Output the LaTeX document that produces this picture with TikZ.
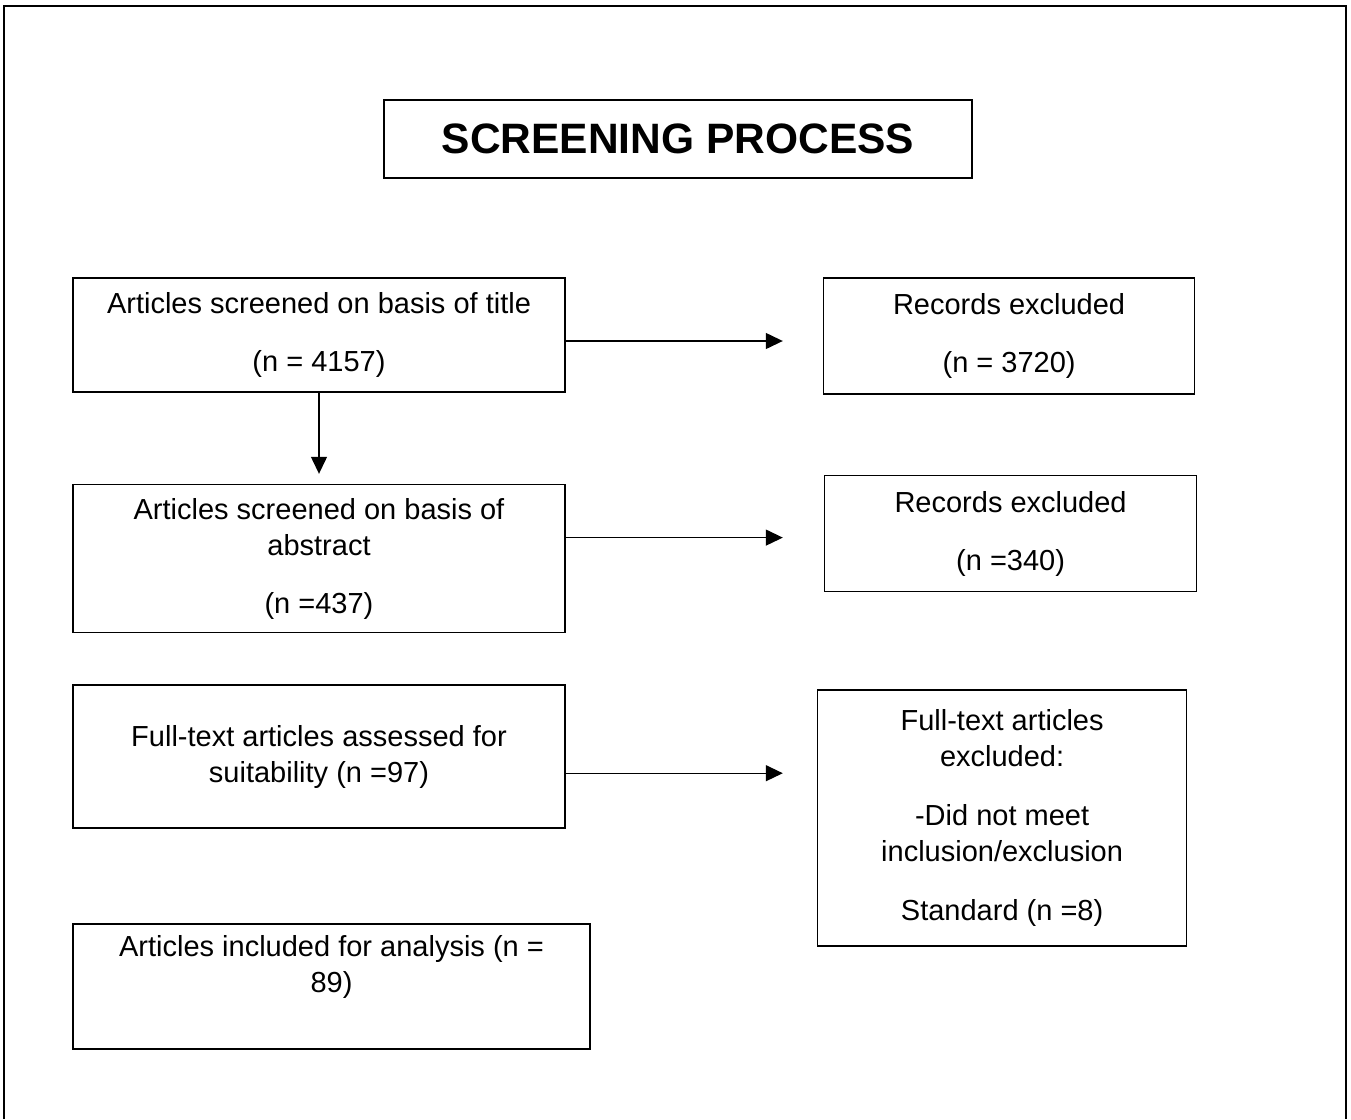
\documentclass[tikz,border=0pt]{standalone}
\usepackage{fontspec}
\setmainfont{Liberation Sans}
\usetikzlibrary{arrows.meta,positioning}

\begin{document}
\begin{tikzpicture}[>={Triangle[length=17pt,width=16pt]},x=1pt,y=1pt,
  box/.style={draw,line width=1.6pt,align=center,inner sep=0pt,font=\fontsize{29}{36}\selectfont},
  titlebox/.style={draw,line width=1.6pt,inner sep=0pt,font=\fontsize{42.5}{50}\selectfont\bfseries},
  flow/.style={->,line width=1.3pt}]
\useasboundingbox (0,0) rectangle (1351,-1119);
\draw[line width=2.4pt] (4,-1119) -- (4,-6) -- (1346,-6) -- (1346,-1119);
\node[titlebox,minimum width=588pt,minimum height=78pt] (head) at (678,-139) {SCREENING PROCESS};
\node[box,minimum width=492pt,minimum height=114pt] (scrTitle) at (319,-335) {Articles screened on basis of title\\[22pt](n = 4157)};
\node[box,minimum width=371pt,minimum height=116pt,right=257pt of scrTitle,yshift=-1pt] (excTitle) {Records excluded\\[22pt](n = 3720)};
\node[box,minimum width=492pt,minimum height=148pt,below=91pt of scrTitle] (scrAbs) {Articles screened on basis of\\abstract\\[22pt](n =437)};
\node[box,minimum width=372pt,minimum height=116pt,right=258pt of scrAbs,yshift=25pt] (excAbs) {Records excluded\\[22pt](n =340)};
\node[box,minimum width=492pt,minimum height=143pt,below=51pt of scrAbs] (fullText) {Full-text articles assessed for\\suitability (n =97)};
\node[box,minimum width=369pt,minimum height=256pt,right=251pt of fullText,yshift=-61.5pt] (excFull) {Full-text articles\\excluded:\\[23pt]-Did not meet\\inclusion/exclusion\\[23pt]Standard (n =8)};
\node[box,minimum width=517pt,minimum height=125pt,below=94pt of fullText.south west,anchor=north west,text depth=44pt] (incl) {Articles included for analysis (n =\\89)};
\draw[flow,shorten >=40pt] ([yshift=-6pt]scrTitle.east) -- ([yshift=-6pt]scrTitle.east -| excTitle.west);
\draw[flow,shorten >=10pt] (scrTitle.south) -- (scrAbs.north);
\draw[flow,shorten >=41pt] ([yshift=21pt]scrAbs.east) -- ([yshift=21pt]scrAbs.east -| excAbs.west);
\draw[flow,shorten >=34pt] ([yshift=-16.5pt]fullText.east) -- ([yshift=-16.5pt]fullText.east -| excFull.west);
\end{tikzpicture}
\end{document}
